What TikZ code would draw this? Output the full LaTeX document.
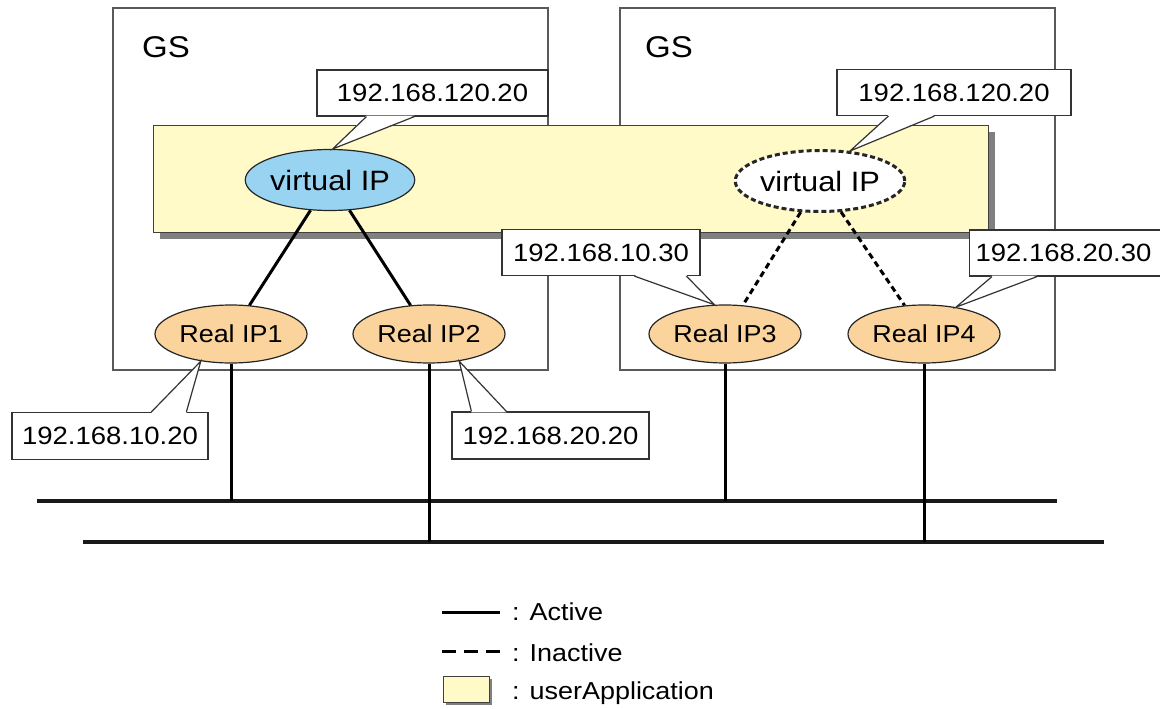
\documentclass[tikz,border=0pt]{standalone}
\usepackage{fontspec}
\setmainfont{Liberation Sans}[FakeStretch=1.1]
\usepackage{tikz}
\usetikzlibrary{positioning,calc,shapes.geometric,shadows}
\definecolor{GSLine}{HTML}{595959}
\definecolor{AppFill}{HTML}{FFFAC8}
\definecolor{AppShadow}{HTML}{808080}
\definecolor{VipFill}{HTML}{99D3F2}
\definecolor{RipFill}{HTML}{FAD49C}

\begin{document}
\begin{tikzpicture}[x=1pt,y=-1pt,node distance=5pt]
  \tikzstyle{gsbox}=[draw=GSLine,line width=1.4pt,inner sep=0pt,
    minimum width=435pt,minimum height=362pt]
  \tikzstyle{gstext}=[anchor=base west,inner sep=0pt,font=\fontsize{30}{32}\selectfont]
  \tikzstyle{appbox}=[draw=black!75,fill=AppFill,line width=1pt,inner sep=0pt]
  \tikzstyle{ipbox}=[draw=black!80,fill=white,line width=1.2pt,inner sep=0pt,
    minimum height=46pt,font=\fontsize{25}{28}\selectfont]
  \tikzstyle{ptrfill}=[fill=white]
  \tikzstyle{ptrline}=[draw=black!80,line width=1.2pt,line join=miter]
  \tikzstyle{vipnode}=[ellipse,draw=black!85,line width=1.2pt,inner sep=0pt,
    minimum width=152pt,minimum height=61pt,font=\fontsize{28}{30}\selectfont]
  \tikzstyle{ripnode}=[ellipse,draw=black!85,fill=RipFill,line width=1.2pt,inner sep=0pt,
    minimum width=152pt,minimum height=58pt,font=\fontsize{24.5}{27}\selectfont]
  \tikzstyle{active}=[line width=3pt]
  \tikzstyle{inactive}=[line width=3pt,dash pattern=on 6pt off 4pt]
  \tikzstyle{bus}=[line width=3.5pt,draw=black!90]
  \tikzstyle{legtext}=[anchor=base west,inner sep=0pt,font=\fontsize{24.5}{27}\selectfont]
  \useasboundingbox (0,0) rectangle (1160,709);

  % GS boxes
  \node[gsbox] (gsL) at (330.5,189) {};
  \node[gsbox] (gsR) at (837.5,189) {};
  \node[gstext] (gsLtxt) at (142,58) {GS};
  \node[gstext] (gsRtxt) at (645,58) {GS};

  % userApplication
  \node[appbox,minimum width=835pt,minimum height=107pt,
    drop shadow={shadow xshift=7pt,shadow yshift=-7pt,fill=AppShadow,opacity=1}]
    (app) at (570.5,178.5) {};

  % IP addresses
  \node[vipnode,fill=VipFill] (vip1) at (330,180) {virtual IP};
  \node[vipnode,fill=white,line width=3pt,dash pattern=on 5pt off 3pt] (vip2) at (820,181) {virtual IP};
  \node[ripnode] (rip1) at (231,334) {Real IP1};
  \node[ripnode] (rip2) at (429,334) {Real IP2};
  \node[ripnode] (rip3) at (725,334) {Real IP3};
  \node[ripnode] (rip4) at (924,334) {Real IP4};

  \draw[active] (vip1) -- (rip1);
  \draw[active] (vip1) -- (rip2);
  \draw[inactive] (vip2) -- (rip3);
  \draw[inactive] (vip2) -- (rip4);

  % networks
  \coordinate (busAw) at (37,501);
  \coordinate (busAe) at (1057,501);
  \coordinate (busBw) at (83,542);
  \coordinate (busBe) at (1104,542);
  \draw[bus] (busAw) -- (busAe);
  \draw[bus] (busBw) -- (busBe);
  \draw[active] (rip1.south) -- (rip1.south |- busAw);
  \draw[active] (rip2.south) -- (rip2.south |- busBw);
  \draw[active] (rip3.south) -- (rip3.south |- busAw);
  \draw[active] (rip4.south) -- (rip4.south |- busBw);

  % callouts
  \node[ipbox,minimum width=231pt] (c1) at (432.5,93) {192.168.120.20};
  \fill[ptrfill] ($(c1.south west)+(50,-1)$) -- (vip1.85) -- ($(c1.south west)+(98,-1)$) -- cycle;
  \draw[ptrline] ($(c1.south west)+(50,0)$) -- (vip1.85) -- ($(c1.south west)+(98,0)$);

  \node[ipbox,minimum width=234pt] (c2) at (954,92.5) {192.168.120.20};
  \fill[ptrfill] ($(c2.south west)+(52,-1)$) -- (vip2.45) -- ($(c2.south west)+(98,-1)$) -- cycle;
  \draw[ptrline] ($(c2.south west)+(52,0)$) -- (vip2.45) -- ($(c2.south west)+(98,0)$);

  \node[ipbox,minimum width=198pt] (c3) at (601,252.5) {192.168.10.30};
  \fill[ptrfill] ($(c3.south west)+(133,-1)$) -- (rip3.110) -- ($(c3.south west)+(185,-1)$) -- cycle;
  \draw[ptrline] ($(c3.south west)+(133,0)$) -- (rip3.110) -- ($(c3.south west)+(185,0)$);

  \node[ipbox,anchor=west,text width=190pt,align=left,inner xsep=6pt] (c4) at (969,253) {192.168.20.30};
  \fill[ptrfill] ($(c4.south west)+(23,-1)$) -- (rip4.40) -- ($(c4.south west)+(68,-1)$) -- cycle;
  \draw[ptrline] ($(c4.south west)+(23,0)$) -- (rip4.40) -- ($(c4.south west)+(68,0)$);

  \node[ipbox,minimum width=196pt,minimum height=47pt] (c5) at (110,436) {192.168.10.20};
  \fill[ptrfill] ($(c5.north west)+(140,1)$) -- (rip1.222) -- ($(c5.north west)+(175,1)$) -- cycle;
  \draw[ptrline] ($(c5.north west)+(140,0)$) -- (rip1.222) -- ($(c5.north west)+(175,0)$);

  \node[ipbox,minimum width=197pt,minimum height=47pt] (c6) at (550.5,435.5) {192.168.20.20};
  \fill[ptrfill] ($(c6.north west)+(20,1)$) -- (rip2.318) -- ($(c6.north west)+(55,1)$) -- cycle;
  \draw[ptrline] ($(c6.north west)+(20,0)$) -- (rip2.318) -- ($(c6.north west)+(55,0)$);

  % legend
  \coordinate (lgAa) at (442,612);
  \coordinate (lgAb) at (500,612);
  \draw[active] (lgAa) -- (lgAb);
  \node[legtext] (lgAtxt) at (512,620) {: Active};
  \coordinate (lgBa) at (442,651);
  \coordinate (lgBb) at (500,651);
  \draw[line width=3pt,dash pattern=on 14pt off 8pt] (lgBa) -- (lgBb);
  \node[legtext] (lgBtxt) at (512,661.5) {: Inactive};
  \node[appbox,minimum width=46pt,minimum height=26pt,
    drop shadow={shadow xshift=3pt,shadow yshift=-3pt,fill=AppShadow,opacity=1}]
    (lgbox) at (466,689) {};
  \node[legtext] (lgCtxt) at (512,699) {: userApplication};
\end{tikzpicture}
\end{document}
